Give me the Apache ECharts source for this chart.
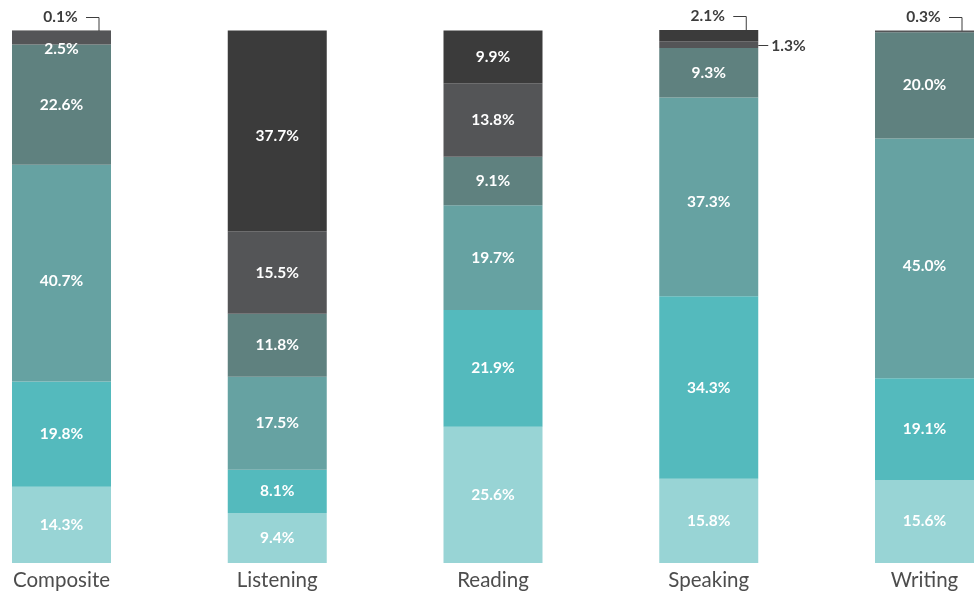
<!DOCTYPE html>
<html>
<head>
<meta charset="utf-8">
<script src="https://cdn.jsdelivr.net/npm/echarts@6/dist/echarts.min.js"></script>
<style>
  html, body { margin: 0; padding: 0; background: #fff; }
  #chart { width: 977px; height: 592px; }
</style>
</head>
<body>
<div id="chart"></div>
<script>
// categories and stacked shares (bottom -> top)
var categories = ['Composite', 'Listening', 'Reading', 'Speaking', 'Writing'];
var level1 = [14.3, 9.4, 25.6, 15.8, 15.6];
var level2 = [19.8, 8.1, 21.9, 34.3, 19.1];
var level3 = [40.7, 17.5, 19.7, 37.3, 45.0];
var level4 = [22.6, 11.8, 9.1, 9.3, 20.0];
var level5 = [2.5, 15.5, 13.8, 1.3, 0.3];
var level6 = [0.1, 37.7, 9.9, 2.1, 0];

var levels = [level1, level2, level3, level4, level5, level6];
var colors = ['#98d4d5', '#54babd', '#66a2a2', '#5f817f', '#545557', '#3b3b3b'];

// small segments labelled outside the bar: [category index, level index, side]
var callouts = [[0, 5, 'top'], [3, 5, 'top'], [3, 4, 'right'], [4, 4, 'top']];

function isCallout(c, s) {
  for (var i = 0; i < callouts.length; i++) {
    if (callouts[i][0] === c && callouts[i][1] === s) return true;
  }
  return false;
}

var fontFam = 'Lato, "Open Sans", sans-serif';
var chart = echarts.init(document.getElementById('chart'));

var series = levels.map(function (arr, s) {
  return {
    type: 'bar',
    stack: 'total',
    barWidth: 99,
    clip: false,
    itemStyle: { color: colors[s] },
    label: {
      show: true,
      position: 'inside',
      color: '#fff',
      fontFamily: fontFam,
      fontWeight: 'bold',
      fontSize: 15.5,
      formatter: function (p) { return p.value.toFixed(1) + '%'; }
    },
    data: arr.map(function (v, c) {
      var item = { value: v };
      if (isCallout(c, s) || v === 0) item.label = { show: false };
      else if (v < 5) item.label = { offset: [0, 11] };
      else if (v > 35) item.label = { offset: [0, v > 40 ? 8 : 5] };
      return item;
    })
  };
});

chart.setOption({
  animation: false,
  grid: { left: 61.5, right: 52.5, top: 30, bottom: 29 },
  xAxis: {
    type: 'category',
    data: categories,
    boundaryGap: false,
    axisLine: { show: false },
    axisTick: { show: false },
    axisLabel: { color: '#4d4d4d', fontSize: 20.5, fontFamily: fontFam, margin: 7 }
  },
  yAxis: { type: 'value', min: 0, max: 100.1, show: false },
  series: series
});

// leader lines + labels for the thin segments
var graphics = [];
callouts.forEach(function (co) {
  var c = co[0], s = co[1], side = co[2];
  var below = 0, total = 0;
  for (var i = 0; i < levels.length; i++) {
    total += levels[i][c];
    if (i < s) below += levels[i][c];
  }
  var v = levels[s][c];
  var txt = v.toFixed(1) + '%';
  var style = { fill: '#3d3d3d', font: 'bold 15.5px ' + fontFam };
  if (side === 'top') {
    var pt = chart.convertToPixel({ gridIndex: 0 }, [c, total]);
    var cx = pt[0], top = Math.round(pt[1]);
    var ly = top - 14;
    graphics.push({
      type: 'text', x: cx - 1, y: ly,
      style: Object.assign({ text: txt, align: 'center', verticalAlign: 'middle' }, style)
    });
    graphics.push({
      type: 'polyline',
      shape: { points: [[cx + 24.5, ly + 0.5], [cx + 37.5, ly + 0.5], [cx + 37.5, top]] },
      style: { stroke: '#3d3d3d', lineWidth: 1, fill: null }
    });
  } else {
    var pm = chart.convertToPixel({ gridIndex: 0 }, [c, below + v / 2]);
    var x0 = pm[0] + 49.5, ym = Math.round(pm[1]) + 0.5;
    graphics.push({
      type: 'polyline',
      shape: { points: [[x0, ym], [x0 + 10, ym]] },
      style: { stroke: '#3d3d3d', lineWidth: 1, fill: null }
    });
    graphics.push({
      type: 'text', x: x0 + 13, y: ym,
      style: Object.assign({ text: txt, align: 'left', verticalAlign: 'middle' }, style)
    });
  }
});
chart.setOption({ graphic: graphics });
</script>
</body>
</html>
